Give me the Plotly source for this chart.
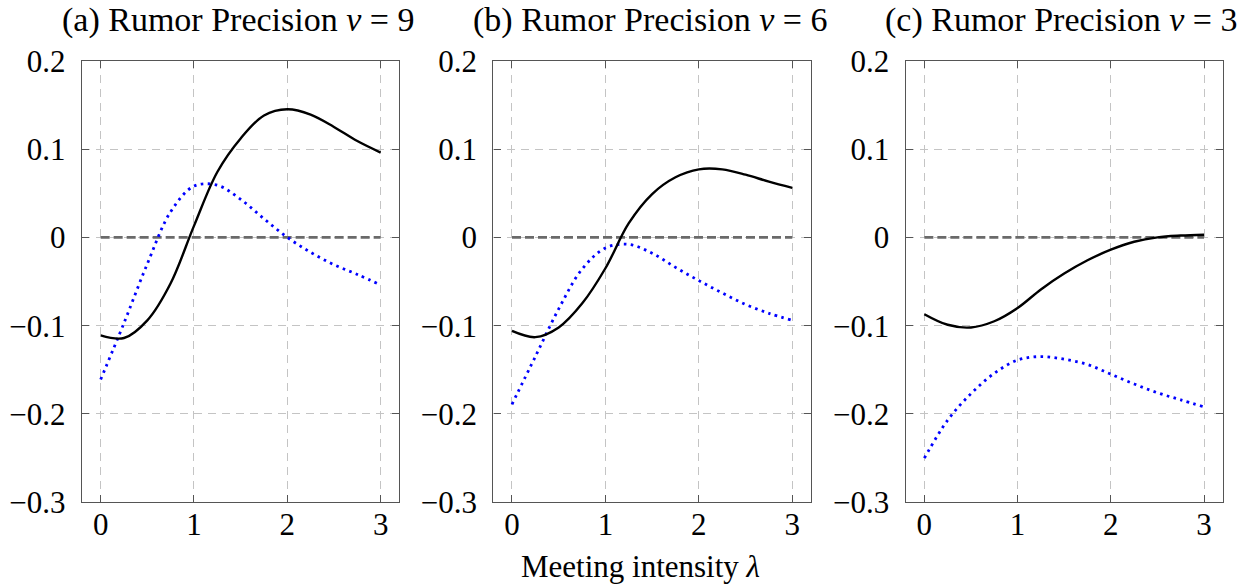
import plotly.graph_objects as go

# ---------------- data ----------------
lam = [0, 0.25, 0.5, 0.75, 1.0, 1.25, 1.5, 1.75, 2.0, 2.25, 2.5, 2.75, 3.0]

black_a = [-0.111, -0.114, -0.094, -0.052, 0.013, 0.074, 0.112, 0.138, 0.145, 0.139, 0.125, 0.109, 0.096]
blue_a = [-0.161, -0.097, -0.030, 0.029, 0.058, 0.059, 0.043, 0.021, 0.000, -0.017, -0.031, -0.042, -0.054]

black_b = [-0.106, -0.113, -0.102, -0.075, -0.035, 0.016, 0.049, 0.068, 0.077, 0.077, 0.071, 0.063, 0.056]
blue_b = [-0.189, -0.135, -0.081, -0.036, -0.012, -0.008, -0.018, -0.034, -0.049, -0.063, -0.076, -0.086, -0.094]

black_c = [-0.087, -0.099, -0.102, -0.095, -0.080, -0.059, -0.041, -0.026, -0.014, -0.005, 0.000, 0.002, 0.003]
blue_c = [-0.250, -0.207, -0.177, -0.154, -0.139, -0.135, -0.138, -0.144, -0.155, -0.166, -0.176, -0.184, -0.192]

zero_x = [0, 3]
zero_y = [0, 0]

titles = ["(a) Rumor Precision <i>ν</i> = 9",
          "(b) Rumor Precision <i>ν</i> = 6",
          "(c) Rumor Precision <i>ν</i> = 3"]
x_tick_vals = [0, 1, 2, 3]
x_tick_text = ["0", "1", "2", "3"]
y_tick_vals = [-0.3, -0.2, -0.1, 0, 0.1, 0.2]
y_tick_text = ["−0.3", "−0.2", "−0.1", "0", "0.1", "0.2"]
x_title = "Meeting intensity <i>λ</i>"

panels = [(black_a, blue_a), (black_b, blue_b), (black_c, blue_c)]

# ---------------- layout geometry ----------------
W, H = 1260, 588
x_domains_px = [(82, 399.3), (493.3, 811), (905.7, 1222.7)]
y_domain_px = (60.7, 502.3)  # top, bottom in pixels

FONT = "Liberation Serif"
TICK_SIZE = 31
TITLE_SIZE = 34
FRAME = "#555555"
GRID = "#c4c4c4"

fig = go.Figure()

for i, (blk, blu) in enumerate(panels):
    n = "" if i == 0 else str(i + 1)
    xa, ya = "x" + n, "y" + n
    fig.add_trace(go.Scatter(x=zero_x, y=zero_y, mode="lines", xaxis=xa, yaxis=ya,
                             line=dict(color="#6a6a6a", width=2.6, dash="9px,4px"),
                             showlegend=False, hoverinfo="skip"))
    fig.add_trace(go.Scatter(x=lam, y=blu, mode="lines", xaxis=xa, yaxis=ya,
                             line=dict(color="#0000ff", width=2.8, dash="2.6px,4.4px", shape="spline", smoothing=1.0),
                             showlegend=False))
    fig.add_trace(go.Scatter(x=lam, y=blk, mode="lines", xaxis=xa, yaxis=ya,
                             line=dict(color="#000000", width=2.4, shape="spline", smoothing=1.0),
                             showlegend=False))

layout = dict(
    width=W, height=H,
    margin=dict(l=0, r=0, t=0, b=0),
    paper_bgcolor="white", plot_bgcolor="white",
    font=dict(family=FONT, size=TICK_SIZE, color="black"),
    showlegend=False,
)

yd = [1 - y_domain_px[1] / H, 1 - y_domain_px[0] / H]
for i, (x0, x1) in enumerate(x_domains_px):
    n = "" if i == 0 else str(i + 1)
    layout["xaxis" + n] = dict(
        domain=[x0 / W, x1 / W], range=[-0.2, 3.2], anchor="y" + n,
        tickvals=x_tick_vals, ticktext=x_tick_text,
        ticks="inside", ticklen=7, tickwidth=1.2, tickcolor=FRAME,
        showline=True, linecolor=FRAME, linewidth=1.4, mirror="ticks",
        showgrid=True, gridcolor=GRID, gridwidth=1, griddash="8px,6px",
        zeroline=False, automargin=False, ticklabelstandoff=-6,
        tickfont=dict(family=FONT, size=TICK_SIZE, color="black"),
    )
    layout["yaxis" + n] = dict(
        domain=yd, range=[-0.3, 0.2], anchor="x" + n,
        tickvals=y_tick_vals, ticktext=y_tick_text,
        ticks="inside", ticklen=7, tickwidth=1.2, tickcolor=FRAME,
        showline=True, linecolor=FRAME, linewidth=1.4, mirror="ticks",
        showgrid=True, gridcolor=GRID, gridwidth=1, griddash="8px,6px",
        zeroline=False, automargin=False, ticklabelstandoff=9,
        tickfont=dict(family=FONT, size=TICK_SIZE, color="black"),
    )

annotations = []
for i, (x0, x1) in enumerate(x_domains_px):
    annotations.append(dict(text=titles[i], x=(x0 + x1) / 2 / W - 0.002, y=1 - 20 / H,
                            xref="paper", yref="paper", xanchor="center", yanchor="middle",
                            showarrow=False, font=dict(family=FONT, size=TITLE_SIZE, color="black")))
annotations.append(dict(text=x_title, x=640 / W, y=1 - 566 / H, xref="paper", yref="paper",
                        xanchor="center", yanchor="middle", showarrow=False,
                        font=dict(family=FONT, size=TICK_SIZE, color="black")))
layout["annotations"] = annotations

fig.update_layout(**layout)
fig.write_html("out.html", config={"displayModeBar": False},
               post_script="document.body.style.margin='0px';")
